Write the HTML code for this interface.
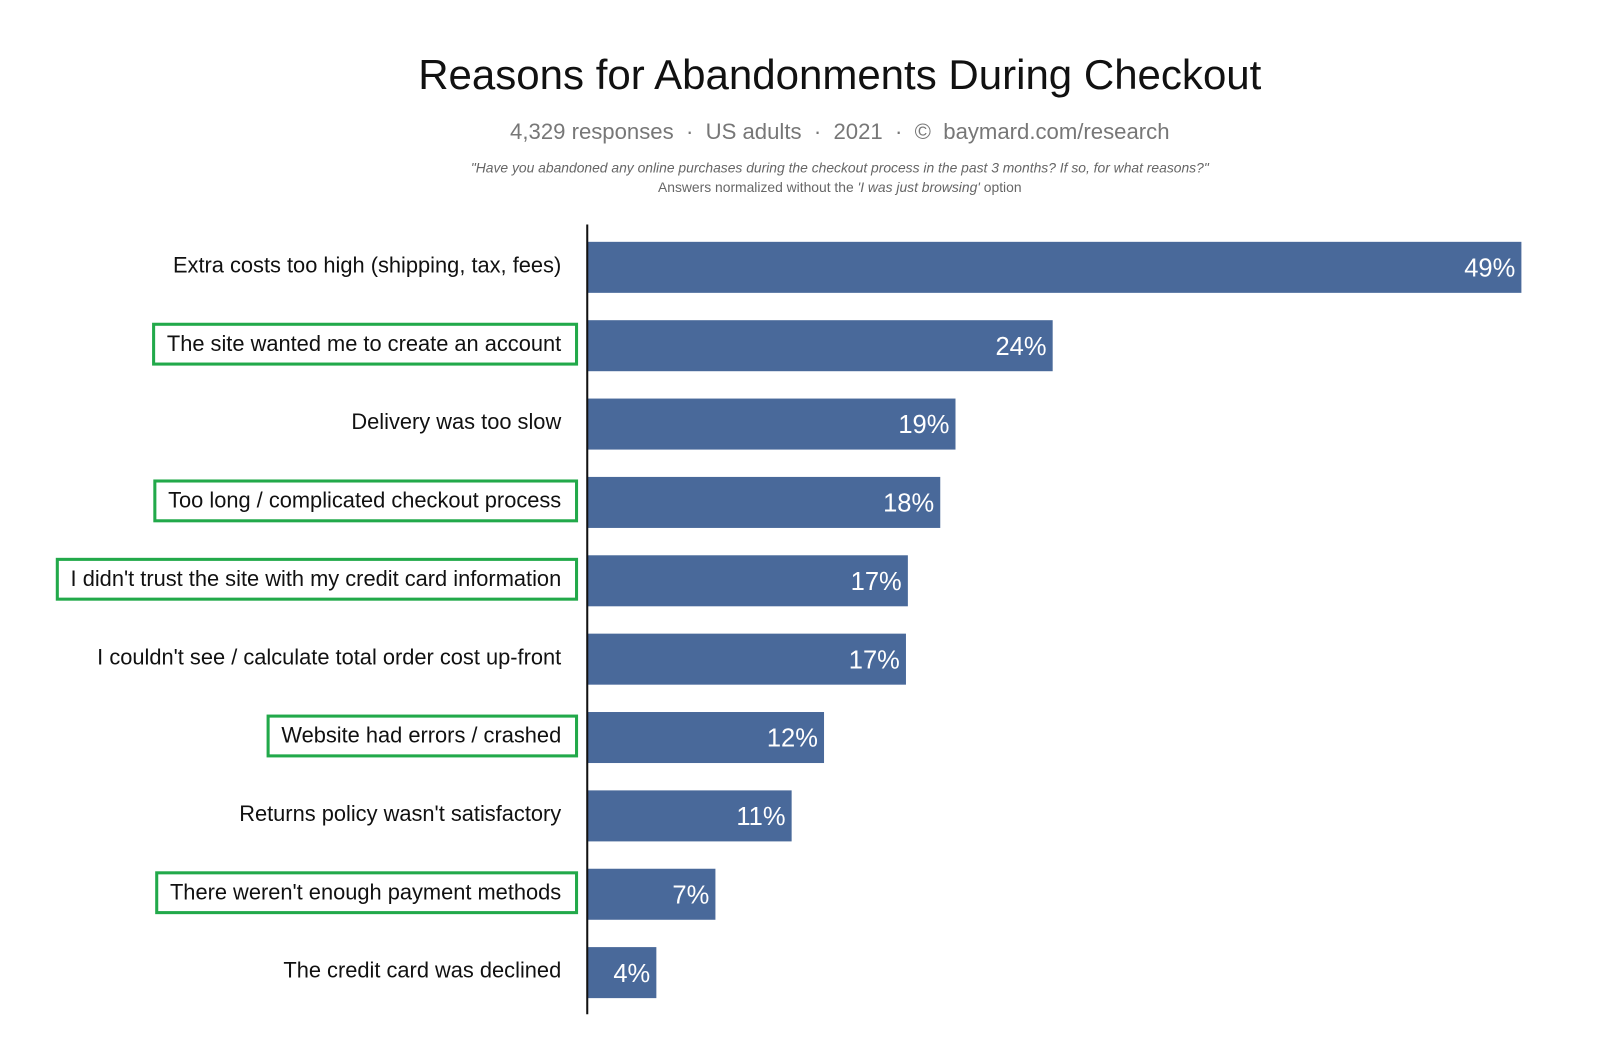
<!DOCTYPE html>
<html><head><meta charset="utf-8"><style>
body{margin:0;background:#fff;width:1600px;height:1052px;overflow:hidden}
svg text{font-family:"Liberation Sans",Arial,sans-serif}
</style></head><body>
<svg id="chart" width="1600" height="1052" viewBox="0 0 1568 1031">
<text x="823" y="87" text-anchor="middle" font-size="41.2" fill="#111">Reasons for Abandonments During Checkout</text>
<text x="823" y="136" text-anchor="middle" font-size="21.7" fill="#777" xml:space="preserve">4,329 responses  ·  US adults  ·  2021  ·  ©  baymard.com/research</text>
<text x="823" y="169" text-anchor="middle" font-size="13.6" font-style="italic" fill="#666">"Have you abandoned any online purchases during the checkout process in the past 3 months? If so, for what reasons?"</text>
<text x="823" y="188" text-anchor="middle" font-size="13.6" fill="#666">Answers normalized without the <tspan font-style="italic">'I was just browsing'</tspan> option</text>
<g id="bars"></g>
<line x1="575.5" y1="220" x2="575.5" y2="994" stroke="#111" stroke-width="2"/>
</svg>
<script>
const categories = ["Extra costs too high (shipping, tax, fees)","The site wanted me to create an account","Delivery was too slow","Too long / complicated checkout process","I didn't trust the site with my credit card information","I couldn't see / calculate total order cost up-front","Website had errors / crashed","Returns policy wasn't satisfactory","There weren't enough payment methods","The credit card was declined"];
const values = [49, 24.4, 19.3, 18.5, 16.8, 16.7, 12.4, 10.7, 6.7, 3.6];
const valueLabels = ["49%","24%","19%","18%","17%","17%","12%","11%","7%","4%"];
const highlighted = [false,true,false,true,true,false,true,false,true,false];

const NS = "http://www.w3.org/2000/svg";
const g = document.getElementById("bars");
const x0 = 576, xScale = v => x0 + v * (1491 - 576) / 49;
const yCenter = i => 262 + i * 76.8;
const barH = 50;
function mk(tag, attrs){const e=document.createElementNS(NS,tag);for(const k in attrs)e.setAttribute(k,attrs[k]);return e;}
categories.forEach((c,i)=>{
  const yc = yCenter(i);
  const r = mk("rect",{x:x0,y:yc-barH/2,width:xScale(values[i])-x0,height:barH,fill:"#49699a"});
  
  
  g.appendChild(r);
  const vt = mk("text",{x:xScale(values[i])-6,y:yc+9,"text-anchor":"end","font-size":"25",fill:"#fff"});
  vt.textContent = valueLabels[i];
  
  
  g.appendChild(vt);
  const lt = mk("text",{x:550,y:yc+5,"text-anchor":"end","font-size":"21.4",fill:"#111"});
  lt.textContent = c;
  
  
  g.appendChild(lt);
  if(highlighted[i]){
    const w = lt.getComputedTextLength();
    const b = mk("rect",{x:550-w-13,y:yc-21,width:w+28,height:39,fill:"none",stroke:"#22a94a","stroke-width":"3"});
    
    
    g.appendChild(b);
  }
});
</script>
</body></html>
